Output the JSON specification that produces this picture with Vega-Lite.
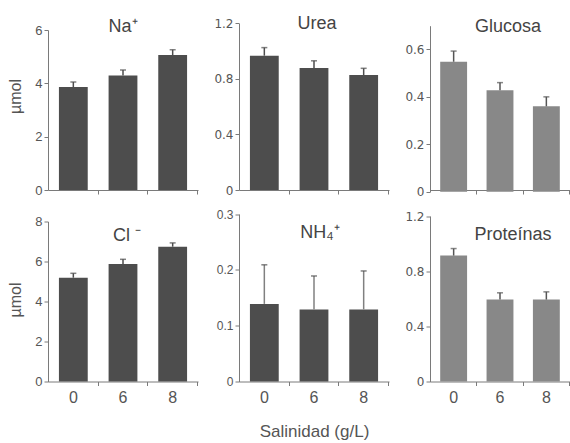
{
  "$schema": "https://vega.github.io/schema/vega-lite/v6.json",
  "padding": {"left": 7, "top": 15, "right": 0, "bottom": 2},
  "bounds": "flush",
  "columns": 3,
  "spacing": {"row": 21.5, "column": 41},
  "config": {
    "view": {"stroke": null},
    "axis": {"domainColor": "#7a7a7a", "tickColor": "#7a7a7a", "labelColor": "#555555", "titleColor": "#555555", "grid": false, "labelFont": "Liberation Sans", "titleFont": "Liberation Sans", "tickSize": 4, "domainWidth": 1, "tickWidth": 1, "titleFontWeight": "normal"},
    "title": {"font": "Liberation Sans", "fontSize": 18, "fontWeight": "normal", "color": "#444444", "anchor": "middle", "frame": "group", "baseline": "alphabetic"}
  },
  "data": {"values": [
    {"panel": "Na", "sal": "0", "value": 3.86, "hi": 4.05},
    {"panel": "Na", "sal": "6", "value": 4.29, "hi": 4.5},
    {"panel": "Na", "sal": "8", "value": 5.06, "hi": 5.26},
    {"panel": "Urea", "sal": "0", "value": 0.967, "hi": 1.025},
    {"panel": "Urea", "sal": "6", "value": 0.878, "hi": 0.93},
    {"panel": "Urea", "sal": "8", "value": 0.828, "hi": 0.876},
    {"panel": "Glucosa", "sal": "0", "value": 0.548, "hi": 0.593},
    {"panel": "Glucosa", "sal": "6", "value": 0.428, "hi": 0.46},
    {"panel": "Glucosa", "sal": "8", "value": 0.36, "hi": 0.4},
    {"panel": "Cl", "sal": "0", "value": 5.19, "hi": 5.41},
    {"panel": "Cl", "sal": "6", "value": 5.88, "hi": 6.11},
    {"panel": "Cl", "sal": "8", "value": 6.74, "hi": 6.93},
    {"panel": "NH4", "sal": "0", "value": 0.139, "hi": 0.209},
    {"panel": "NH4", "sal": "6", "value": 0.129, "hi": 0.189},
    {"panel": "NH4", "sal": "8", "value": 0.129, "hi": 0.198},
    {"panel": "Prot", "sal": "0", "value": 0.913, "hi": 0.964},
    {"panel": "Prot", "sal": "6", "value": 0.594, "hi": 0.643},
    {"panel": "Prot", "sal": "8", "value": 0.594, "hi": 0.65}
  ]},
  "concat": [
    {
      "width": 150, "height": 170,
      "title": {"text": "Na⁺", "offset": -16, "dx": 0},
      "transform": [{"filter": "datum.panel == 'Na'"}],
      "encoding": {"x": {"field": "sal", "type": "nominal", "scale": {"paddingInner": 0.42, "paddingOuter": 0.22}, "axis": {"labels": false, "title": null, "bandPosition": 1.362}}},
      "layer": [
        {"mark": {"type": "bar", "color": "#4d4d4d"}, "encoding": {"y": {"field": "value", "type": "quantitative", "scale": {"domain": [0, 6], "range": [170, 10], "nice": false, "zero": true}, "axis": {"values": [0, 1, 2, 3, 4, 5, 6], "labelExpr": "datum.value % 2 == 0 ? datum.label : ''", "format": "d", "labelFontSize": 13, "title": "µmol", "titleFontSize": 16, "titleX": -33, "titleY": 76, "titleBaseline": "middle", "titleAngle": -90}}}},
        {"mark": {"type": "rule", "color": "#4d4d4d", "strokeWidth": 1.5}, "encoding": {"y": {"field": "value", "type": "quantitative"}, "y2": {"field": "hi"}}},
        {"mark": {"type": "tick", "color": "#4d4d4d", "size": 6, "thickness": 1.5}, "encoding": {"y": {"field": "hi", "type": "quantitative"}}}
      ]
    },
    {
      "width": 150, "height": 170,
      "title": {"text": "Urea", "offset": -16, "dx": 3},
      "transform": [{"filter": "datum.panel == 'Urea'"}],
      "encoding": {"x": {"field": "sal", "type": "nominal", "scale": {"paddingInner": 0.42, "paddingOuter": 0.22}, "axis": {"labels": false, "title": null, "bandPosition": 1.362}}},
      "layer": [
        {"mark": {"type": "bar", "color": "#4d4d4d"}, "encoding": {"y": {"field": "value", "type": "quantitative", "scale": {"domain": [0, 1.2], "range": [170, 3.3], "nice": false, "zero": true}, "axis": {"values": [0, 0.2, 0.4, 0.6, 0.8, 1, 1.2], "labelExpr": "round(datum.value*10) % 4 == 0 ? datum.label : ''", "format": ".1~f", "labelFont": "DejaVu Sans", "labelFontSize": 12, "title": null}}}},
        {"mark": {"type": "rule", "color": "#4d4d4d", "strokeWidth": 1.5}, "encoding": {"y": {"field": "value", "type": "quantitative"}, "y2": {"field": "hi"}}},
        {"mark": {"type": "tick", "color": "#4d4d4d", "size": 6, "thickness": 1.5}, "encoding": {"y": {"field": "hi", "type": "quantitative"}}}
      ]
    },
    {
      "width": 140, "height": 170,
      "title": {"text": "Glucosa", "offset": -16, "dx": 8},
      "transform": [{"filter": "datum.panel == 'Glucosa'"}],
      "encoding": {"x": {"field": "sal", "type": "nominal", "scale": {"paddingInner": 0.42, "paddingOuter": 0.22}, "axis": {"labels": false, "title": null, "bandPosition": 1.362}}},
      "layer": [
        {"mark": {"type": "bar", "color": "#888888"}, "encoding": {"y": {"field": "value", "type": "quantitative", "scale": {"domain": [0, 0.7], "range": [171.7, 5.7], "nice": false, "zero": true}, "axis": {"values": [0, 0.1, 0.2, 0.3, 0.4, 0.5, 0.6, 0.7], "labelExpr": "round(datum.value*10) % 2 == 0 && datum.value < 0.65 ? datum.label : ''", "format": ".1~f", "labelFont": "DejaVu Sans", "labelFontSize": 12, "title": null}}}},
        {"mark": {"type": "rule", "color": "#555555", "strokeWidth": 1.5}, "encoding": {"y": {"field": "value", "type": "quantitative"}, "y2": {"field": "hi"}}},
        {"mark": {"type": "tick", "color": "#555555", "size": 6, "thickness": 1.5}, "encoding": {"y": {"field": "hi", "type": "quantitative"}}}
      ]
    },
    {
      "width": 150, "height": 170,
      "title": {"text": "Cl ⁻", "offset": -33.5, "dx": 4},
      "transform": [{"filter": "datum.panel == 'Cl'"}],
      "encoding": {"x": {"field": "sal", "type": "nominal", "scale": {"paddingInner": 0.42, "paddingOuter": 0.22}, "axis": {"title": null, "bandPosition": 1.362, "labelFontSize": 16, "labelPadding": 4, "labelAngle": 0}}},
      "layer": [
        {"mark": {"type": "bar", "color": "#4d4d4d"}, "encoding": {"y": {"field": "value", "type": "quantitative", "scale": {"domain": [0, 8], "range": [170, 10], "nice": false, "zero": true}, "axis": {"values": [0, 1, 2, 3, 4, 5, 6, 7, 8], "labelExpr": "datum.value % 2 == 0 ? datum.label : ''", "format": "d", "labelFontSize": 13, "title": "µmol", "titleFontSize": 16, "titleX": -33, "titleY": 88, "titleBaseline": "middle", "titleAngle": -90}}}},
        {"mark": {"type": "rule", "color": "#4d4d4d", "strokeWidth": 1.5}, "encoding": {"y": {"field": "value", "type": "quantitative"}, "y2": {"field": "hi"}}},
        {"mark": {"type": "tick", "color": "#4d4d4d", "size": 6, "thickness": 1.5}, "encoding": {"y": {"field": "hi", "type": "quantitative"}}}
      ]
    },
    {
      "width": 150, "height": 170,
      "title": {"text": "NH₄⁺", "offset": -33.5, "dx": 6},
      "transform": [{"filter": "datum.panel == 'NH4'"}],
      "encoding": {"x": {"field": "sal", "type": "nominal", "scale": {"paddingInner": 0.42, "paddingOuter": 0.22}, "axis": {"title": "Salinidad (g/L)", "titleFontSize": 17, "titlePadding": 17.5, "bandPosition": 1.362, "labelFontSize": 16, "labelPadding": 4, "labelAngle": 0}}},
      "layer": [
        {"mark": {"type": "bar", "color": "#4d4d4d"}, "encoding": {"y": {"field": "value", "type": "quantitative", "scale": {"domain": [0, 0.3], "range": [170, 2.5], "nice": false, "zero": true}, "axis": {"values": [0, 0.05, 0.1, 0.15, 0.2, 0.25, 0.3], "labelExpr": "round(datum.value*100) % 10 == 0 ? datum.label : ''", "format": ".1~f", "labelFontSize": 12, "title": null}}}},
        {"mark": {"type": "rule", "color": "#808080", "strokeWidth": 1.5}, "encoding": {"y": {"field": "value", "type": "quantitative"}, "y2": {"field": "hi"}}},
        {"mark": {"type": "tick", "color": "#4d4d4d", "size": 6, "thickness": 1.5}, "encoding": {"y": {"field": "hi", "type": "quantitative"}}}
      ]
    },
    {
      "width": 140, "height": 170,
      "title": {"text": "Proteínas", "offset": -33.5, "dx": 13},
      "transform": [{"filter": "datum.panel == 'Prot'"}],
      "encoding": {"x": {"field": "sal", "type": "nominal", "scale": {"paddingInner": 0.42, "paddingOuter": 0.22}, "axis": {"title": null, "bandPosition": 1.362, "labelFontSize": 16, "labelPadding": 4, "labelAngle": 0}}},
      "layer": [
        {"mark": {"type": "bar", "color": "#888888"}, "encoding": {"y": {"field": "value", "type": "quantitative", "scale": {"domain": [0, 1.2], "range": [170, 4.5], "nice": false, "zero": true}, "axis": {"values": [0, 0.2, 0.4, 0.6, 0.8, 1, 1.2], "labelExpr": "round(datum.value*10) % 4 == 0 ? datum.label : ''", "format": ".1~f", "labelFont": "DejaVu Sans", "labelFontSize": 12, "title": null}}}},
        {"mark": {"type": "rule", "color": "#555555", "strokeWidth": 1.5}, "encoding": {"y": {"field": "value", "type": "quantitative"}, "y2": {"field": "hi"}}},
        {"mark": {"type": "tick", "color": "#555555", "size": 6, "thickness": 1.5}, "encoding": {"y": {"field": "hi", "type": "quantitative"}}}
      ]
    }
  ]
}
